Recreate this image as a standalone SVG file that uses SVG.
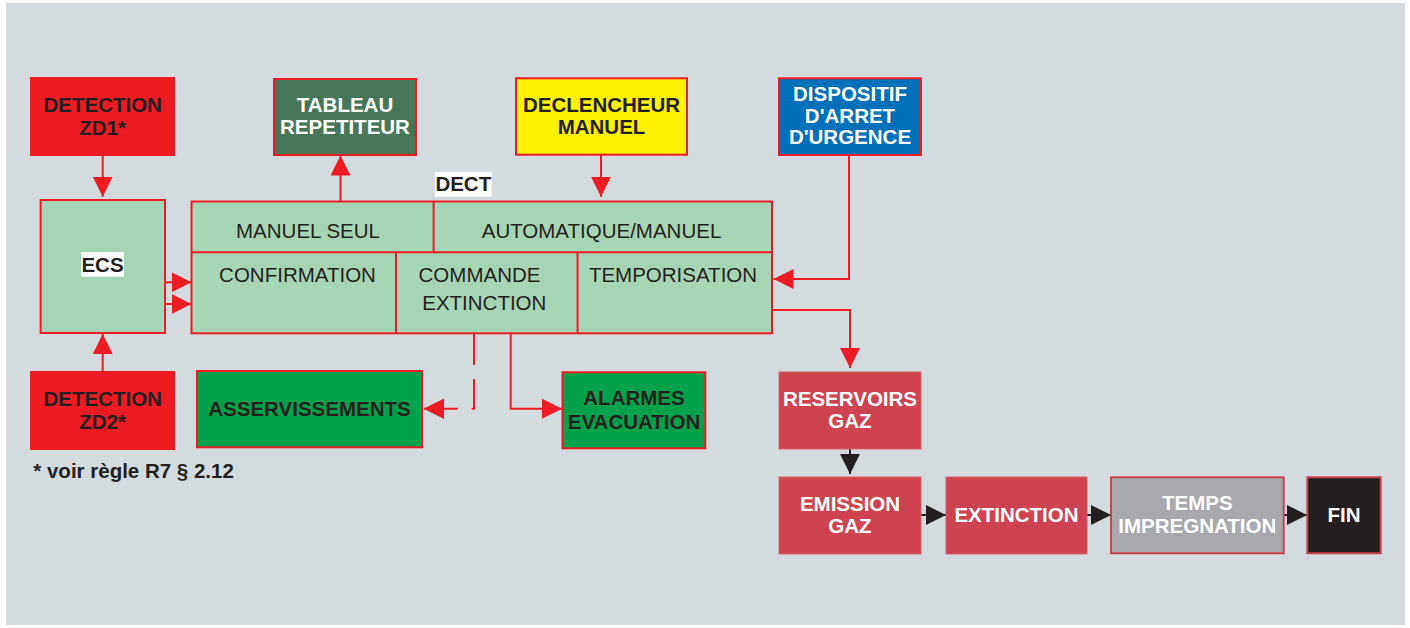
<svg xmlns="http://www.w3.org/2000/svg" width="1410" height="628" viewBox="0 0 1410 628">
<defs>
<style>
.bg{fill:#D3DBDE}
.box{stroke:#ED1C24;stroke-width:2}
.t{font-family:"Liberation Sans",Arial,sans-serif;font-size:20.5px;font-weight:bold;text-anchor:middle}
.dk{fill:#231F20}
.wh{fill:#FFFFFF}
.r{font-family:"Liberation Sans",Arial,sans-serif;font-size:20.5px;text-anchor:middle;fill:#231F20}
.rl{fill:none;stroke:#ED1C24;stroke-width:2}
.bl{fill:none;stroke:#231F20;stroke-width:2}
</style>
<marker id="ra" markerUnits="userSpaceOnUse" markerWidth="20" markerHeight="20" refX="20" refY="10" orient="auto" viewBox="0 0 20 20"><path d="M0,0 L20,10 L0,20 Z" fill="#ED1C24"/></marker>
<marker id="ba" markerUnits="userSpaceOnUse" markerWidth="20" markerHeight="20" refX="20" refY="10" orient="auto" viewBox="0 0 20 20"><path d="M0,0 L20,10 L0,20 Z" fill="#231F20"/></marker>
</defs>
<rect x="6" y="3" width="1399" height="622" class="bg"/>

<g id="connectors">
<path class="rl" d="M102.7,155 V196.7" marker-end="url(#ra)"/>
<path class="rl" d="M102.7,372 V334" marker-end="url(#ra)"/>
<path class="rl" d="M165,282.3 H191.5" marker-end="url(#ra)"/>
<path class="rl" d="M165,304 H191.5" marker-end="url(#ra)"/>
<path class="rl" d="M340.5,202 V155.5" marker-end="url(#ra)"/>
<path class="rl" d="M601,155 V196.7" marker-end="url(#ra)"/>
<path class="rl" d="M849,155 V279 H773.5" marker-end="url(#ra)"/>
<path class="rl" d="M772,310 H850 V368" marker-end="url(#ra)"/>
<path class="rl" d="M474,333 V408.7 H424" stroke-dasharray="32 14" marker-end="url(#ra)"/>
<path class="rl" d="M442,408.7 H424" marker-end="url(#ra)"/>
<path class="rl" d="M510.7,333 V408.7 H562" marker-end="url(#ra)"/>
<path class="bl" d="M850,449 V474" marker-end="url(#ba)"/>
<path class="bl" d="M921,515 H946" marker-end="url(#ba)"/>
<path class="bl" d="M1087,515 H1111" marker-end="url(#ba)"/>
<path class="bl" d="M1283.7,515 H1307" marker-end="url(#ba)"/>
</g>

<g id="detection-zd1">
<rect x="31" y="78" width="143" height="77" class="box" fill="#ED1C24"/>
<text class="t dk" x="102.7" y="112.3">DETECTION</text>
<text class="t dk" x="102.7" y="135">ZD1*</text>
</g>

<g id="tableau">
<rect x="274" y="79" width="142" height="76" class="box" fill="#46775A"/>
<text class="t wh" x="345" y="111.7">TABLEAU</text>
<text class="t wh" x="345" y="134.3">REPETITEUR</text>
</g>

<g id="declencheur">
<rect x="516" y="78.3" width="171" height="76.4" class="box" fill="#FFF200"/>
<text class="t dk" x="601.5" y="112.3">DECLENCHEUR</text>
<text class="t dk" x="601.5" y="134">MANUEL</text>
</g>

<g id="dispositif">
<rect x="779" y="78.3" width="142" height="76.7" class="box" fill="#0070BA"/>
<text class="t wh" x="850" y="100.7">DISPOSITIF</text>
<text class="t wh" x="850" y="122.7">D'ARRET</text>
<text class="t wh" x="850" y="144.3">D'URGENCE</text>
</g>

<g id="ecs">
<rect x="40.7" y="200" width="124.3" height="133" class="box" fill="#A5D5B5"/>
<rect x="81" y="252" width="43" height="24.7" fill="#FFFFFF"/>
<text class="t dk" x="102.5" y="271.7">ECS</text>
</g>

<g id="dect">
<rect x="191.5" y="201.5" width="580.5" height="131.8" class="box" fill="#A5D5B5"/>
<line x1="191.5" y1="252.3" x2="772" y2="252.3" class="rl"/>
<line x1="433.6" y1="201.5" x2="433.6" y2="252.3" class="rl"/>
<line x1="396" y1="252.3" x2="396" y2="333.3" class="rl"/>
<line x1="577.5" y1="252.3" x2="577.5" y2="333.3" class="rl"/>
<rect x="435" y="172" width="56.7" height="24.7" fill="#FFFFFF"/>
<text class="t dk" x="463.3" y="190.7">DECT</text>
<text class="r" x="308" y="237.7">MANUEL SEUL</text>
<text class="r" x="601.5" y="237.7">AUTOMATIQUE/MANUEL</text>
<text class="r" x="297.5" y="281.7">CONFIRMATION</text>
<text class="r" x="479.5" y="282">COMMANDE</text>
<text class="r" x="484.3" y="310">EXTINCTION</text>
<text class="r" x="673" y="282">TEMPORISATION</text>
</g>

<g id="detection-zd2">
<rect x="31" y="372" width="143" height="77" class="box" fill="#ED1C24"/>
<text class="t dk" x="102.7" y="406">DETECTION</text>
<text class="t dk" x="102.7" y="428.7">ZD2*</text>
</g>

<g id="asservissements">
<rect x="197" y="371" width="225" height="76.3" class="box" fill="#00A14B"/>
<text class="t dk" x="309.5" y="416">ASSERVISSEMENTS</text>
</g>

<g id="alarmes">
<rect x="562.5" y="372.3" width="142.8" height="76" class="box" fill="#00A14B"/>
<text class="t dk" x="634" y="405.3">ALARMES</text>
<text class="t dk" x="634" y="429">EVACUATION</text>
</g>

<text class="dk" x="33.3" y="478.3" font-family="'Liberation Sans',Arial,sans-serif" font-size="20.5" font-weight="bold">* voir règle R7 § 2.12</text>

<g id="reservoirs">
<rect x="779" y="372" width="142" height="77" fill="#CD4350" stroke="#D9636C" stroke-width="1"/>
<text class="t wh" x="850" y="406">RESERVOIRS</text>
<text class="t wh" x="850" y="428.3">GAZ</text>
</g>

<g id="emission">
<rect x="779" y="477" width="142" height="77" fill="#CD4350" stroke="#D9636C" stroke-width="1"/>
<text class="t wh" x="850" y="510.7">EMISSION</text>
<text class="t wh" x="850" y="533.3">GAZ</text>
</g>

<g id="extinction">
<rect x="946" y="477" width="141" height="77" fill="#CD4350" stroke="#D9636C" stroke-width="1"/>
<text class="t wh" x="1016.5" y="522.3">EXTINCTION</text>
</g>

<g id="temps">
<rect x="1111" y="477.3" width="172.7" height="76" fill="#A7A9AC" stroke="#C9444F" stroke-width="2"/>
<text class="t wh" x="1197.3" y="510">TEMPS</text>
<text class="t wh" x="1197.3" y="532.7">IMPREGNATION</text>
</g>

<g id="fin">
<rect x="1307.3" y="477.3" width="73.4" height="76" fill="#231F20" stroke="#C9444F" stroke-width="2"/>
<text class="t wh" x="1344" y="522.3">FIN</text>
</g>
</svg>
